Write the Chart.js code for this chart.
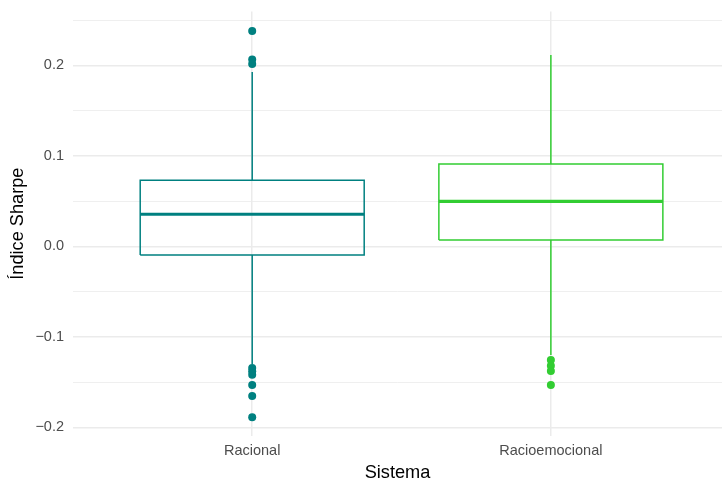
<!DOCTYPE html>
<html>
<head>
<meta charset="utf-8">
<script src="https://cdn.jsdelivr.net/npm/chart.js@4"></script>
<style>
  html, body { margin: 0; padding: 0; background: #fff; }
  #wrap { width: 722px; height: 481px; }
</style>
</head>
<body>
<div id="wrap"><canvas id="box" width="722" height="481"></canvas></div>
<script>
// data
const categories = ['Racional', 'Racioemocional'];
const colors = ['#008080', '#32CD32'];
const q1 = [-0.0096, 0.0070];
const median = [0.0354, 0.0497];
const q3 = [0.0729, 0.0909];
const whiskerLow = [-0.130, -0.120];
const whiskerHigh = [0.1925, 0.2114];
const outliers = [
    [0.2379, 0.2063, 0.2014, -0.1346, -0.1380, -0.1420, -0.1533, -0.1654, -0.1890],
    [-0.1256, -0.1320, -0.1378, -0.1533]
];
const yMajor = [-0.2, -0.1, 0.0, 0.1, 0.2];
const yMajorLabels = ['\u22120.2', '\u22120.1', '0.0', '0.1', '0.2'];
const yMinor = [-0.15, -0.05, 0.05, 0.15, 0.25];

const halfBox = 0.375;
const datasets = [];
categories.forEach((cat, i) => {
    const x = i + 1;
    const c = colors[i];
    const line = { showLine: true, pointRadius: 0, fill: false, borderColor: c, borderWidth: 1.5 };
    datasets.push(Object.assign({}, line, { data: [{x: x, y: q3[i]}, {x: x, y: whiskerHigh[i]}] }));
    datasets.push(Object.assign({}, line, { data: [{x: x, y: q1[i]}, {x: x, y: whiskerLow[i]}] }));
    datasets.push(Object.assign({}, line, { data: [
        {x: x - halfBox, y: q1[i]}, {x: x + halfBox, y: q1[i]},
        {x: x + halfBox, y: q3[i]}, {x: x - halfBox, y: q3[i]},
        {x: x - halfBox, y: q1[i]}
    ] }));
    datasets.push(Object.assign({}, line, { borderWidth: 3.2, data: [
        {x: x - halfBox, y: median[i]}, {x: x + halfBox, y: median[i]}
    ] }));
    datasets.unshift({
        data: outliers[i].map(v => ({x: x, y: v})),
        pointRadius: 4, pointBackgroundColor: c, pointBorderWidth: 0, showLine: false
    });
});

const font = 'Liberation Sans, Arial, sans-serif';
const isMajor = v => yMajor.some(m => Math.abs(m - v) < 1e-9);
const noPad = s => { s.paddingTop = 0; s.paddingBottom = 0; s.paddingLeft = 0; s.paddingRight = 0; };

new Chart(document.getElementById('box').getContext('2d'), {
    type: 'scatter',
    data: { datasets: datasets },
    options: {
        responsive: false,
        animation: false,
        layout: { autoPadding: false, padding: { top: 11.6, right: 0, bottom: 0, left: 0 } },
        plugins: { legend: { display: false }, tooltip: { enabled: false } },
        scales: {
            x: {
                type: 'linear',
                min: 0.4,
                max: 2.573,
                afterBuildTicks: s => { s.ticks = categories.map((c, i) => ({ value: i + 1 })); },
                afterFit: s => { s.height = 45.3; noPad(s); },
                grid: { color: '#EBEBEB', lineWidth: 1.5, drawTicks: false },
                border: { display: false },
                ticks: {
                    autoSkip: false,
                    padding: 6.6,
                    color: '#4D4D4D',
                    font: { family: font, size: 14.5 },
                    callback: v => categories[Math.round(v) - 1]
                },
                title: {
                    display: true, text: 'Sistema', color: '#000',
                    padding: { top: 0, bottom: 0 },
                    font: { family: font, size: 18.2, lineHeight: 0.91 }
                }
            },
            y: {
                min: -0.2093,
                max: 0.2593,
                afterBuildTicks: s => {
                    s.ticks = yMajor.concat(yMinor).sort((a, b) => a - b).map(v => ({ value: v }));
                },
                afterFit: s => { s.width = 73; noPad(s); },
                grid: {
                    color: '#EBEBEB',
                    drawTicks: false,
                    lineWidth: ctx => (ctx.tick && isMajor(ctx.tick.value)) ? 1.5 : 0.8
                },
                border: { display: false },
                ticks: {
                    autoSkip: false,
                    padding: 9,
                    color: '#4D4D4D',
                    font: { family: font, size: 14.5 },
                    callback: v => {
                        const k = yMajor.findIndex(m => Math.abs(m - v) < 1e-9);
                        return k >= 0 ? yMajorLabels[k] : '';
                    }
                },
                title: {
                    display: true, text: 'Índice Sharpe', color: '#000',
                    padding: { top: 6.6, bottom: 0 },
                    font: { family: font, size: 18.2 }
                }
            }
        }
    }
});
</script>
</body>
</html>
